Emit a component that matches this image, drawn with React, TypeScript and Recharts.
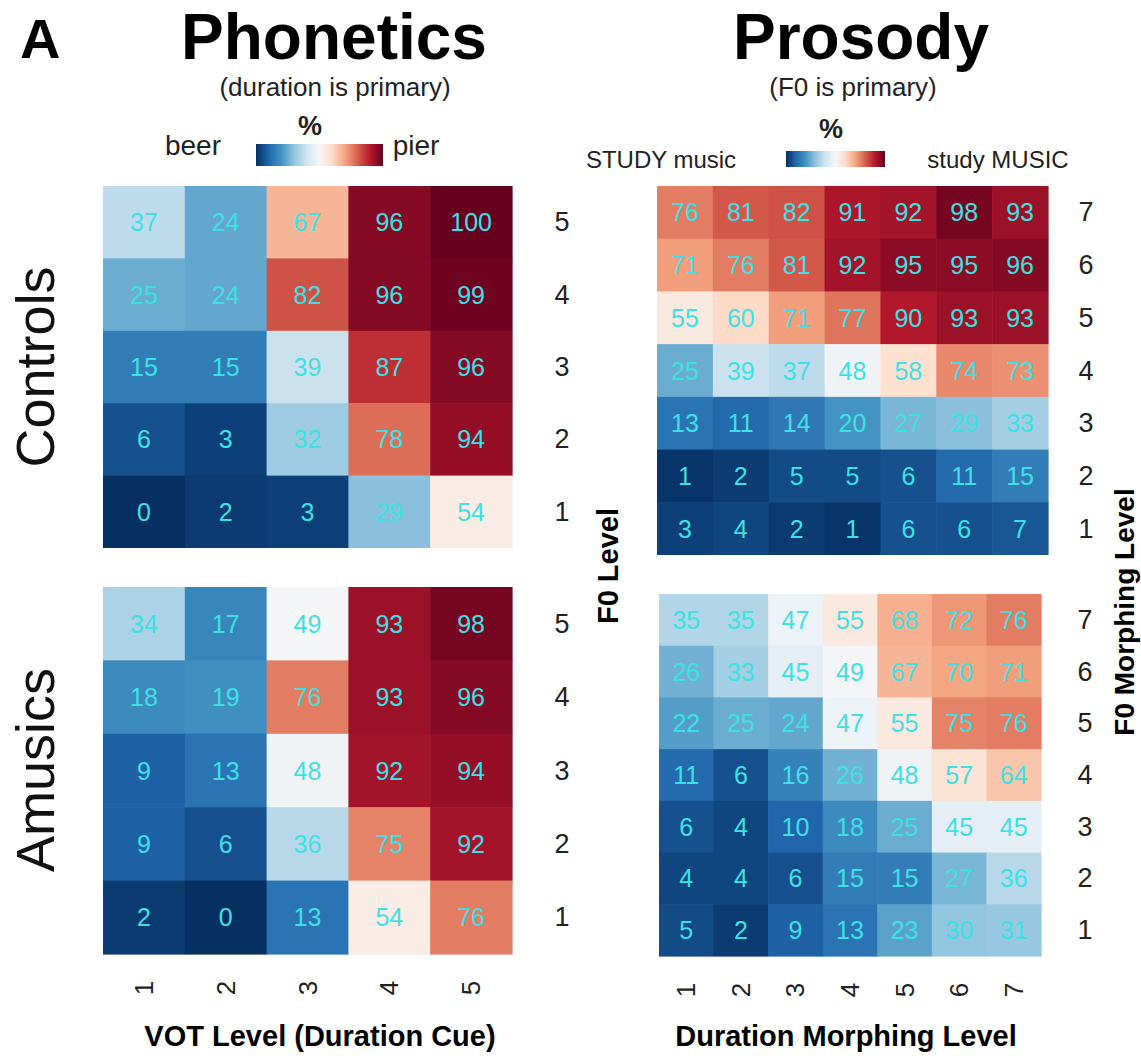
import React from 'react';
import { ScatterChart, Scatter, XAxis, YAxis } from 'recharts';

// levels on each axis
const votLevels = [1, 2, 3, 4, 5];
const morphLevels = [1, 2, 3, 4, 5, 6, 7];

// % responses, rows listed top (highest F0 level) to bottom, columns left to right
const phonControls = [
  [37, 24, 67, 96, 100],
  [25, 24, 82, 96, 99],
  [15, 15, 39, 87, 96],
  [6, 3, 32, 78, 94],
  [0, 2, 3, 29, 54],
];
const phonAmusics = [
  [34, 17, 49, 93, 98],
  [18, 19, 76, 93, 96],
  [9, 13, 48, 92, 94],
  [9, 6, 36, 75, 92],
  [2, 0, 13, 54, 76],
];
const prosControls = [
  [76, 81, 82, 91, 92, 98, 93],
  [71, 76, 81, 92, 95, 95, 96],
  [55, 60, 71, 77, 90, 93, 93],
  [25, 39, 37, 48, 58, 74, 73],
  [13, 11, 14, 20, 27, 29, 33],
  [1, 2, 5, 5, 6, 11, 15],
  [3, 4, 2, 1, 6, 6, 7],
];
const prosAmusics = [
  [35, 35, 47, 55, 68, 72, 76],
  [26, 33, 45, 49, 67, 70, 71],
  [22, 25, 24, 47, 55, 75, 76],
  [11, 6, 16, 26, 48, 57, 64],
  [6, 4, 10, 18, 25, 45, 45],
  [4, 4, 6, 15, 15, 27, 36],
  [5, 2, 9, 13, 23, 30, 31],
];

const FONT = '"Liberation Sans", Arial, Helvetica, sans-serif';

// RdBu, reversed: low = blue, high = red
const rdbuStops = [
  '#053061', '#2166ac', '#4393c3', '#92c5de', '#d1e5f0', '#f7f7f7',
  '#fddbc7', '#f4a582', '#d6604d', '#b2182b', '#67001f',
];

function hexToRgb(h: string) {
  const n = parseInt(h.slice(1), 16);
  return [(n >> 16) & 255, (n >> 8) & 255, n & 255];
}

function rdbu(v: number) {
  const t = Math.max(0, Math.min(1, v / 100)) * (rdbuStops.length - 1);
  const i = Math.min(Math.floor(t), rdbuStops.length - 2);
  const f = t - i;
  const a = hexToRgb(rdbuStops[i]);
  const b = hexToRgb(rdbuStops[i + 1]);
  const c = a.map((x, k) => Math.round(x + (b[k] - x) * f));
  return `rgb(${c[0]},${c[1]},${c[2]})`;
}

function toPoints(rows: number[][]) {
  const n = rows.length;
  const pts: { x: number; y: number; v: number }[] = [];
  rows.forEach((row, r) => {
    row.forEach((v, c) => {
      pts.push({ x: c + 1, y: n - r, v });
    });
  });
  return pts;
}

interface HeatProps {
  rows: number[][];
  levels: number[];
  left: number;
  top: number;
  plotW: number;
  plotH: number;
  showX: boolean;
  labelOffset: number;
}

function Heatmap({ rows, levels, left, top, plotW, plotH, showX, labelOffset }: HeatProps) {
  const n = levels.length;
  const cw = plotW / n;
  const ch = plotH / rows.length;
  const axisH = showX ? 70 : 0;

  const cellShape = (props: any) => {
    const { cx, cy, payload } = props;
    return (
      <g>
        <rect
          x={cx - cw / 2}
          y={cy - ch / 2}
          width={cw + 0.6}
          height={ch + 0.6}
          fill={rdbu(payload.v)}
        />
        <text
          x={cx}
          y={cy}
          textAnchor="middle"
          dominantBaseline="central"
          fontSize={25}
          fontFamily={FONT}
          fill="#3fe0e3"
        >
          {payload.v}
        </text>
      </g>
    );
  };

  const yTick = (props: any) => {
    const { x, y, payload } = props;
    return (
      <text
        x={x + labelOffset}
        y={y}
        textAnchor="middle"
        dominantBaseline="central"
        fontSize={27}
        fontFamily={FONT}
        fill="#222"
      >
        {payload.value}
      </text>
    );
  };

  const xTick = (props: any) => {
    const { x, y, payload } = props;
    const ty = y + 26;
    return (
      <text
        x={x}
        y={ty}
        transform={`rotate(-90 ${x} ${ty})`}
        textAnchor="middle"
        dominantBaseline="central"
        fontSize={26}
        fontFamily={FONT}
        fill="#222"
      >
        {payload.value}
      </text>
    );
  };

  return (
    <div style={{ position: 'absolute', left, top }}>
      <ScatterChart
        width={plotW + 100}
        height={plotH + axisH}
        margin={{ top: 0, right: 0, bottom: 0, left: 0 }}
      >
        <XAxis
          type="number"
          dataKey="x"
          domain={[0.5, n + 0.5]}
          ticks={levels}
          hide={!showX}
          height={axisH}
          axisLine={false}
          tickLine={false}
          tick={xTick}
          interval={0}
        />
        <YAxis
          type="number"
          dataKey="y"
          orientation="right"
          domain={[0.5, rows.length + 0.5]}
          ticks={levels.slice(0, rows.length)}
          width={100}
          axisLine={false}
          tickLine={false}
          tick={yTick}
          interval={0}
        />
        <Scatter data={toPoints(rows)} shape={cellShape} isAnimationActive={false} />
      </ScatterChart>
    </div>
  );
}

function Colorbar({ id, x, y, w, h }: { id: string; x: number; y: number; w: number; h: number }) {
  return (
    <g>
      <defs>
        <linearGradient id={id} x1="0" x2="1" y1="0" y2="0">
          {rdbuStops.map((c, i) => (
            <stop key={i} offset={i / (rdbuStops.length - 1)} stopColor={c} />
          ))}
        </linearGradient>
      </defs>
      <rect x={x} y={y} width={w} height={h} fill={`url(#${id})`} />
    </g>
  );
}

export default function App() {
  return (
    <div
      style={{
        position: 'absolute',
        left: 0,
        top: 0,
        width: 1141,
        height: 1056,
        background: '#fff',
        fontFamily: FONT,
      }}
    >
      <svg
        width={1141}
        height={1056}
        style={{ position: 'absolute', left: 0, top: 0 }}
        fontFamily={FONT}
      >
        <text x={20} y={58} fontSize={56} fontWeight="bold" fill="#000">A</text>

        <text x={334} y={59} fontSize={64} fontWeight="bold" textAnchor="middle" fill="#000">Phonetics</text>
        <text x={335} y={96} fontSize={26} textAnchor="middle" fill="#222">(duration is primary)</text>
        <text x={310} y={135} fontSize={27} fontWeight="bold" textAnchor="middle" fill="#222">%</text>
        <text x={193} y={155} fontSize={28} textAnchor="middle" fill="#222">beer</text>
        <Colorbar id="cb1" x={256} y={144} w={127} h={22} />
        <text x={416} y={155} fontSize={28} textAnchor="middle" fill="#222">pier</text>

        <text x={861} y={59} fontSize={64} fontWeight="bold" textAnchor="middle" fill="#000">Prosody</text>
        <text x={853} y={96} fontSize={26} textAnchor="middle" fill="#222">(F0 is primary)</text>
        <text x={831} y={138} fontSize={27} fontWeight="bold" textAnchor="middle" fill="#222">%</text>
        <text x={661} y={168} fontSize={24} textAnchor="middle" fill="#222">STUDY music</text>
        <Colorbar id="cb2" x={786} y={151} w={99} h={16} />
        <text x={998} y={168} fontSize={24} textAnchor="middle" fill="#222">study MUSIC</text>

        <text
          x={35}
          y={367}
          transform="rotate(-90 35 367)"
          fontSize={54}
          textAnchor="middle"
          dominantBaseline="central"
          fill="#111"
        >
          Controls
        </text>
        <text
          x={35}
          y={770}
          transform="rotate(-90 35 770)"
          fontSize={54}
          textAnchor="middle"
          dominantBaseline="central"
          fill="#111"
        >
          Amusics
        </text>

        <text
          x={608}
          y={566}
          transform="rotate(-90 608 566)"
          fontSize={29}
          fontWeight="bold"
          textAnchor="middle"
          dominantBaseline="central"
          fill="#000"
        >
          F0 Level
        </text>
        <text
          x={1124}
          y={612}
          transform="rotate(-90 1124 612)"
          fontSize={28}
          fontWeight="bold"
          textAnchor="middle"
          dominantBaseline="central"
          fill="#000"
        >
          F0 Morphing Level
        </text>

        <text x={320} y={1046} fontSize={29} fontWeight="bold" textAnchor="middle" fill="#000">
          VOT Level (Duration Cue)
        </text>
        <text x={846} y={1046} fontSize={29} fontWeight="bold" textAnchor="middle" fill="#000">
          Duration Morphing Level
        </text>
      </svg>

      <Heatmap rows={phonControls} levels={votLevels} left={103} top={186} plotW={409} plotH={362} showX={false} labelOffset={42} />
      <Heatmap rows={phonAmusics} levels={votLevels} left={103} top={587} plotW={409} plotH={367} showX={true} labelOffset={42} />
      <Heatmap rows={prosControls} levels={morphLevels} left={657} top={186} plotW={391} plotH={369} showX={false} labelOffset={30} />
      <Heatmap rows={prosAmusics} levels={morphLevels} left={659} top={594} plotW={382} plotH={362} showX={true} labelOffset={36} />
    </div>
  );
}
